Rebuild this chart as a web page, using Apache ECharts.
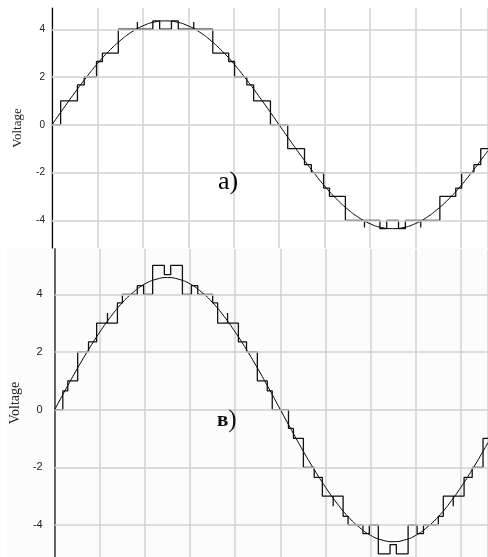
<!DOCTYPE html>
<html>
<head>
<meta charset="utf-8">
<script src="https://cdn.jsdelivr.net/npm/echarts@6/dist/echarts.min.js"></script>
<style>
  html, body { margin: 0; padding: 0; background: #fff; }
  #chart { width: 488px; height: 557px; }
</style>
</head>
<body>
<div id="chart"></div>
<script>
"use strict";

// x positions of the sampled sine (one grid cell = 1)
var sineX = [0, 0.25, 0.5, 0.75, 1, 1.25, 1.5, 1.75, 2, 2.25, 2.5, 2.75, 3, 3.25, 3.5, 3.75, 4, 4.25, 4.5, 4.75,
  5, 5.25, 5.5, 5.75, 6, 6.25, 6.5, 6.75, 7, 7.25, 7.5, 7.75, 8, 8.25, 8.5, 8.75, 9, 9.25, 9.5, 9.6];
// panel a) sine
var sineA = [0, 0.68, 1.34, 1.97, 2.56, 3.08, 3.52, 3.88, 4.14, 4.30, 4.35, 4.30, 4.14, 3.88, 3.52, 3.08, 2.56, 1.97, 1.34, 0.68,
  0, -0.68, -1.34, -1.97, -2.56, -3.08, -3.52, -3.88, -4.14, -4.30, -4.35, -4.30, -4.14, -3.88, -3.52, -3.08, -2.56, -1.97, -1.34, -1.08];
// panel в) sine
var sineB = [0, 0.72, 1.42, 2.08, 2.69, 3.24, 3.71, 4.08, 4.36, 4.52, 4.58, 4.52, 4.36, 4.08, 3.71, 3.24, 2.69, 2.08, 1.42, 0.72,
  0, -0.72, -1.42, -2.08, -2.69, -3.24, -3.71, -4.08, -4.36, -4.52, -4.58, -4.52, -4.36, -4.08, -3.71, -3.24, -2.69, -2.08, -1.42, -1.14];

// staircase levels: [x where level starts, level]
var stepsA = [[0, 0], [0.19, 1], [0.56, 1.67], [0.71, 2], [0.98, 2.65], [1.11, 3], [1.46, 4], [1.88, 4.3], [1.88, 4],
  [2.22, 4.35], [2.37, 4], [2.63, 4.35], [2.78, 4], [3.12, 4.3], [3.12, 4], [3.54, 3], [3.89, 2.65], [4.02, 2],
  [4.29, 1.67], [4.44, 1], [4.81, 0],
  [5.19, -1], [5.56, -1.67], [5.71, -2], [5.98, -2.65], [6.11, -3], [6.46, -4], [6.88, -4.3], [6.88, -4],
  [7.22, -4.35], [7.37, -4], [7.63, -4.35], [7.78, -4], [8.12, -4.3], [8.12, -4], [8.54, -3], [8.89, -2.65], [9.02, -2],
  [9.29, -1.67], [9.44, -1], [9.6, -1]];
var stepsB = [[0, 0], [0.18, 0.65], [0.29, 1], [0.51, 2], [0.75, 2.35], [0.93, 3], [1.17, 3.35], [1.17, 3], [1.39, 3.7],
  [1.5, 4], [1.83, 4.3], [1.97, 4], [2.17, 5], [2.43, 4.68], [2.57, 5], [2.83, 4], [3.03, 4.3], [3.17, 4], [3.5, 3.7],
  [3.61, 3], [3.83, 3.35], [3.83, 3], [4.07, 2.35], [4.25, 2], [4.49, 1], [4.71, 0.65], [4.82, 0],
  [5.18, -0.65], [5.29, -1], [5.51, -2], [5.75, -2.35], [5.93, -3], [6.17, -3.35], [6.17, -3], [6.39, -3.7],
  [6.5, -4], [6.83, -4.3], [6.97, -4], [7.17, -5], [7.43, -4.68], [7.57, -5], [7.83, -4], [8.03, -4.3], [8.17, -4], [8.5, -3.7],
  [8.61, -3], [8.83, -3.35], [8.83, -3], [9.07, -2.35], [9.25, -2], [9.49, -1], [9.6, -1]];

var yTicks = [4, 2, 0, -2, -4];
var yName = "Voltage";

var chart = echarts.init(document.getElementById("chart"), null, { renderer: "canvas" });

function pairs(xs, ys) {
  return xs.map(function (x, i) { return [x, ys[i]]; });
}

var gridLine = { color: "#d2d2d2", width: 1.5 };

function xAxisFor(idx) {
  return {
    type: "value", gridIndex: idx, min: 0, max: 9.6, interval: 1,
    axisLine: { show: false }, axisTick: { show: false }, axisLabel: { show: false },
    splitLine: { show: true, lineStyle: gridLine }
  };
}

function yAxisFor(idx, min, max, fs, nameFs, gap, margin, axisColor, axisWidth) {
  return {
    type: "value", gridIndex: idx, min: min, max: max,
    name: yName, nameLocation: "middle", nameRotate: 90, nameGap: gap,
    nameTextStyle: { fontFamily: "Liberation Serif", fontSize: nameFs, color: "#222" },
    axisLine: { show: true, onZero: false, lineStyle: { color: axisColor, width: axisWidth } },
    axisTick: { show: false },
    axisLabel: { showMinLabel: false, showMaxLabel: false, margin: margin,
      fontFamily: "Liberation Sans", fontSize: fs, color: "#222" },
    splitLine: { show: false }
  };
}

function gridSeries(idx) {
  // horizontal grid lines at the labelled values
  return {
    type: "line", xAxisIndex: idx, yAxisIndex: idx, data: [], z: 1, silent: true,
    markLine: {
      silent: true, symbol: ["none", "none"], label: { show: false },
      lineStyle: { color: gridLine.color, width: gridLine.width, type: "solid" },
      data: yTicks.map(function (v) { return { yAxis: v }; })
    }
  };
}

var option = {
  animation: false,
  backgroundColor: "#fff",
  graphic: [
    { type: "rect", z: -10, shape: { x: 7, y: 248, width: 481, height: 309 }, style: { fill: "#fcfcfc" }, silent: true },
    { type: "text", z: 100, left: 218, top: 169,
      style: { text: "а)", fontFamily: "Liberation Serif", fontSize: 26, fill: "#000" } },
    { type: "text", z: 100, left: 217, top: 408,
      style: { text: "{b|в}{p|)}", fill: "#000",
        rich: {
          b: { fontFamily: "Liberation Serif", fontSize: 21, fontWeight: "bold", fill: "#111" },
          p: { fontFamily: "Liberation Serif", fontSize: 25, fill: "#111" }
        } } }
  ],
  grid: [
    { left: 52, top: 8, right: -1, height: 240 },
    { left: 50, top: 249, right: -1, bottom: 0 }
  ],
  xAxis: [xAxisFor(0), xAxisFor(1)],
  yAxis: [
    yAxisFor(0, -5.16, 4.89, 10, 13, 28, 7, "#000", 1.2),
    yAxisFor(1, -5.11, 5.57, 11, 14, 27, 12, "#666", 2)
  ],
  series: [
    gridSeries(0),
    gridSeries(1),
    {
      type: "line", xAxisIndex: 0, yAxisIndex: 0, data: pairs(sineX, sineA),
      smooth: 0.5, showSymbol: false, lineStyle: { color: "#000", width: 1 }, z: 3
    },
    {
      type: "line", xAxisIndex: 0, yAxisIndex: 0, data: stepsA, step: "end",
      showSymbol: false, lineStyle: { color: "#111", width: 1.3 }, z: 4
    },
    {
      type: "line", xAxisIndex: 1, yAxisIndex: 1, data: pairs(sineX, sineB),
      smooth: 0.5, showSymbol: false, lineStyle: { color: "#000", width: 1 }, z: 3
    },
    {
      type: "line", xAxisIndex: 1, yAxisIndex: 1, data: stepsB, step: "end",
      showSymbol: false, lineStyle: { color: "#111", width: 1.3 }, z: 4
    }
  ]
};

chart.setOption(option);
</script>
</body>
</html>
